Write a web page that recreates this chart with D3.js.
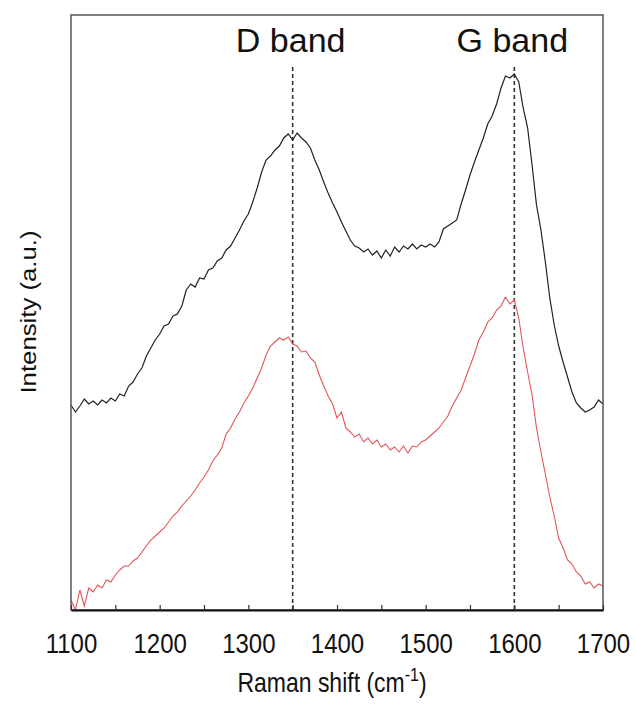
<!DOCTYPE html>
<html>
<head>
<meta charset="utf-8">
<script src="https://cdn.jsdelivr.net/npm/d3@7/dist/d3.min.js"></script>
<style>
  body { margin: 0; background: #fff; }
  svg text { font-family: "Liberation Sans", Arial, sans-serif; fill: #111; }
</style>
</head>
<body>
<div id="chart"></div>
<script>
// Raman shift (cm-1), every 5 cm-1
var shift = [1100,1105,1110,1115,1120,1125,1130,1135,1140,1145,1150,1155,1160,1165,1170,1175,1180,1185,1190,1195,
  1200,1205,1210,1215,1220,1225,1230,1235,1240,1245,1250,1255,1260,1265,1270,1275,1280,1285,1290,1295,
  1300,1305,1310,1315,1320,1325,1330,1335,1340,1345,1350,1355,1360,1365,1370,1375,1380,1385,1390,1395,
  1400,1405,1410,1415,1420,1425,1430,1435,1440,1445,1450,1455,1460,1465,1470,1475,1480,1485,1490,1495,
  1500,1505,1510,1515,1520,1525,1530,1535,1540,1545,1550,1555,1560,1565,1570,1575,1580,1585,1590,1595,
  1600,1605,1610,1615,1620,1625,1630,1635,1640,1645,1650,1655,1660,1665,1670,1675,1680,1685,1690,1695,1700];

// upper spectrum (black), arbitrary units
var blackSpec = [295,288,294,301,296,299,295,300,297,302,299,306,304,314,318,326,332,344,352,360,
  366,374,376,384,386,394,410,416,413,422,421,430,432,439,442,450,454,462,470,479,
  486,498,512,528,540,544,550,554,562,566,560,567,562,558,552,540,530,518,507,497,
  488,478,469,460,454,452,448,451,445,449,442,450,444,453,448,454,451,456,451,455,
  453,456,453,458,471,474,477,480,496,510,525,538,550,562,576,584,596,612,624,622,
  626,618,592,572,535,495,470,438,402,375,354,338,323,308,297,292,288,290,293,300,296];

// lower spectrum (red), arbitrary units
var redSpec = [100,90,110,94,112,108,115,112,120,118,125,130,134,134,139,142,148,154,160,164,
  168,172,178,184,188,194,199,204,210,217,223,230,239,245,252,266,272,281,288,297,
  304,312,322,332,345,354,358,362,360,363,356,354,348,349,342,338,325,314,304,296,
  282,288,272,268,263,266,258,262,256,260,253,256,250,253,248,254,247,254,253,258,
  260,264,268,272,278,284,294,302,310,322,334,346,360,368,378,382,390,394,403,396,
  400,382,352,328,305,272,248,226,203,184,162,152,140,136,128,124,116,118,112,116,114];

var xTicks = [1100,1200,1300,1400,1500,1600,1700];
var minorTicks = [1150,1250,1350,1450,1550,1650];
var bands = [{name: "D band", pos: 1350}, {name: "G band", pos: 1600}];

var width = 635, height = 713;
var margin = {top: 15, right: 32, bottom: 103, left: 71};

var svg = d3.select("#chart").append("svg")
  .attr("width", width)
  .attr("height", height);

var x = d3.scaleLinear().domain([1100, 1700]).range([margin.left, width - margin.right]);
var y = d3.scaleLinear().domain([90, 685]).range([height - margin.bottom, margin.top]);

svg.append("clipPath").attr("id", "plotClip")
  .append("rect")
  .attr("x", x(1100)).attr("y", y(685))
  .attr("width", x(1700) - x(1100)).attr("height", y(90) - y(685));

// dashed band markers
svg.selectAll(".bandLine")
  .data(bands)
  .enter().append("line")
  .attr("class", "bandLine")
  .attr("x1", function(d) { return x(d.pos); })
  .attr("x2", function(d) { return x(d.pos); })
  .attr("y1", 67)
  .attr("y2", y(90))
  .attr("stroke", "#333")
  .attr("stroke-width", 1.6)
  .attr("stroke-dasharray", "4,3");

svg.selectAll(".bandLabel")
  .data(bands)
  .enter().append("text")
  .attr("class", "bandLabel")
  .attr("x", function(d) { return x(d.pos) - 2; })
  .attr("y", 52)
  .attr("text-anchor", "middle")
  .style("font-size", "34px")
  .text(function(d) { return d.name; });

var line = function(values) {
  return d3.line()
    .x(function(d, i) { return x(shift[i]); })
    .y(function(d) { return y(d); })(values);
};

var g = svg.append("g").attr("clip-path", "url(#plotClip)");

g.append("path")
  .attr("d", line(redSpec))
  .attr("fill", "none")
  .attr("stroke", "#e2545a")
  .attr("stroke-width", 1.1);

g.append("path")
  .attr("d", line(blackSpec))
  .attr("fill", "none")
  .attr("stroke", "#222")
  .attr("stroke-width", 1.2);

// frame
svg.append("rect")
  .attr("x", x(1100)).attr("y", y(685))
  .attr("width", x(1700) - x(1100)).attr("height", y(90) - y(685))
  .attr("fill", "none")
  .attr("stroke", "#555")
  .attr("stroke-width", 1.5);

// bottom axis with inward ticks
var xAxis = d3.axisBottom(x)
  .tickValues(xTicks.concat(minorTicks))
  .tickSizeInner(-5)
  .tickSizeOuter(0)
  .tickFormat(function(d) { return xTicks.indexOf(d) >= 0 ? d : ""; });

var ax = svg.append("g")
  .attr("transform", "translate(0," + y(90) + ")")
  .call(xAxis);
ax.select(".domain").attr("stroke", "#111").attr("stroke-width", 2);
ax.selectAll(".tick line").attr("stroke", "#333").attr("stroke-width", 1.2);
// labels are a little taller than wide in the original
ax.selectAll(".tick text")
  .attr("y", 0)
  .attr("dy", 0)
  .attr("transform", "translate(0,43) scale(1,1.17)")
  .style("font-size", "24px")
  .style("font-family", "'Liberation Sans', Arial, sans-serif")
  .attr("fill", "#111");

// axis titles
var xt = svg.append("text")
  .attr("transform", "translate(332,692) scale(1,1.2)")
  .attr("text-anchor", "middle")
  .style("font-size", "23px")
  .text("Raman shift (cm");
xt.append("tspan").attr("dy", -9).style("font-size", "16px").text("-1");
xt.append("tspan").attr("dy", 9).text(")");

svg.append("text")
  .attr("transform", "translate(36,312) rotate(-90) scale(1.12,1)")
  .attr("text-anchor", "middle")
  .style("font-size", "23px")
  .text("Intensity (a.u.)");
</script>
</body>
</html>
